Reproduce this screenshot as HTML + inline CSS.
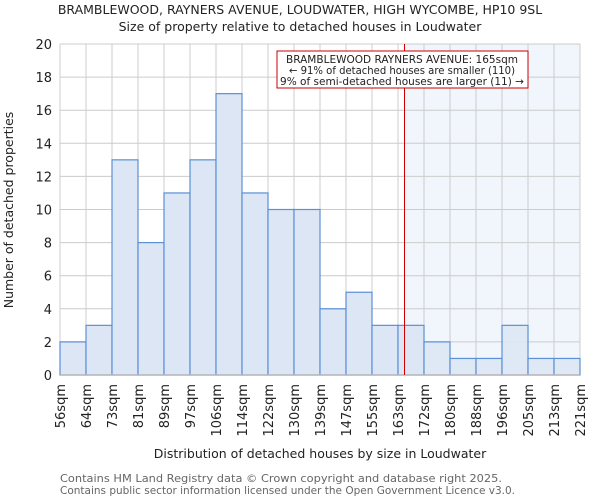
<!DOCTYPE html>
<html><head><meta charset="utf-8"><style>
body{margin:0;background:#fff;font-family:"DejaVu Sans","Liberation Sans",sans-serif}
text{font-family:"DejaVu Sans","Liberation Sans",sans-serif}
</style></head><body>
<svg id="chart" width="600" height="500" xmlns="http://www.w3.org/2000/svg">
<text x="300" y="14" text-anchor="middle" font-size="12.5" fill="#222">BRAMBLEWOOD, RAYNERS AVENUE, LOUDWATER, HIGH WYCOMBE, HP10 9SL</text>
<text x="300" y="31" text-anchor="middle" font-size="12.5" fill="#222">Size of property relative to detached houses in Loudwater</text>
<g id="plot"></g>
<text x="320" y="458" text-anchor="middle" font-size="12.5" fill="#222">Distribution of detached houses by size in Loudwater</text>
<text transform="translate(13,210) rotate(-90)" text-anchor="middle" font-size="12.5" fill="#222">Number of detached properties</text>
<text x="60" y="482" font-size="10.5" fill="#666" textLength="442" lengthAdjust="spacingAndGlyphs">Contains HM Land Registry data © Crown copyright and database right 2025.</text>
<text x="60" y="494" font-size="10.5" fill="#666" textLength="455" lengthAdjust="spacingAndGlyphs">Contains public sector information licensed under the Open Government Licence v3.0.</text>
</svg>
<script>
const binLabels=["56sqm","64sqm","73sqm","81sqm","89sqm","97sqm","106sqm","114sqm","122sqm","130sqm","139sqm","147sqm","155sqm","163sqm","172sqm","180sqm","188sqm","196sqm","205sqm","213sqm","221sqm"];
const counts=[2,3,13,8,11,13,17,11,10,10,4,5,3,3,2,1,1,3,1,1];
const yTicks=[0,2,4,6,8,10,12,14,16,18,20];
const propertyBin=13.25;
const ns="http://www.w3.org/2000/svg";
const L=60,R=580,T=44,B=375,yMax=20;
const g=document.getElementById('plot');
const xs=i=>L+(R-L)*i/counts.length;
const ys=v=>B-(B-T)*v/yMax;
function mk(t,a){const e=document.createElementNS(ns,t);for(const k in a)e.setAttribute(k,a[k]);g.appendChild(e);return e;}
const hl=mk('rect',{x:xs(propertyBin),y:T,width:R-xs(propertyBin),height:B-T,fill:'#f1f5fc'});


for(let i=0;i<=counts.length;i++){const l=mk('line',{x1:xs(i),x2:xs(i),y1:T,y2:B,stroke:'#ccc','stroke-width':1});

}
yTicks.forEach(v=>{const l=mk('line',{x1:L,x2:R,y1:ys(v),y2:ys(v),stroke:'#ccc','stroke-width':1});


const t=mk('text',{x:L-8,y:ys(v)+5,'text-anchor':'end','font-size':13,fill:'#222'});t.textContent=v;

});
counts.forEach((c,i)=>{const r=mk('rect',{x:xs(i),y:ys(c),width:xs(i+1)-xs(i),height:B-ys(c),fill:'#dce6f4','fill-opacity':i>=propertyBin?0.85:1,stroke:'#5b8fd6','stroke-width':1.2});

});
binLabels.forEach((s,i)=>{const t=mk('text',{transform:`translate(${xs(i)+5},384) rotate(-90)`,'text-anchor':'end','font-size':13,fill:'#222'});t.textContent=s;

});
const ax=mk('line',{x1:L,x2:R,y1:B,y2:B,stroke:'#bbb','stroke-width':1.5});


const px=xs(propertyBin);
const rl=mk('line',{x1:px,x2:px,y1:T,y2:B,stroke:'#cc0000','stroke-width':1});


const box=mk('rect',{x:277,y:51,width:251,height:37,fill:'#fff',stroke:'#cc0000','stroke-width':1});


["BRAMBLEWOOD RAYNERS AVENUE: 165sqm","← 91% of detached houses are smaller (110)","9% of semi-detached houses are larger (11) →"].forEach((s,i)=>{const t=mk('text',{x:402,y:63+i*11,'text-anchor':'middle','font-size':10.5,fill:'#222',textLength:[232,226,244][i],lengthAdjust:'spacingAndGlyphs'});t.textContent=s;

});
</script>
</body></html>
